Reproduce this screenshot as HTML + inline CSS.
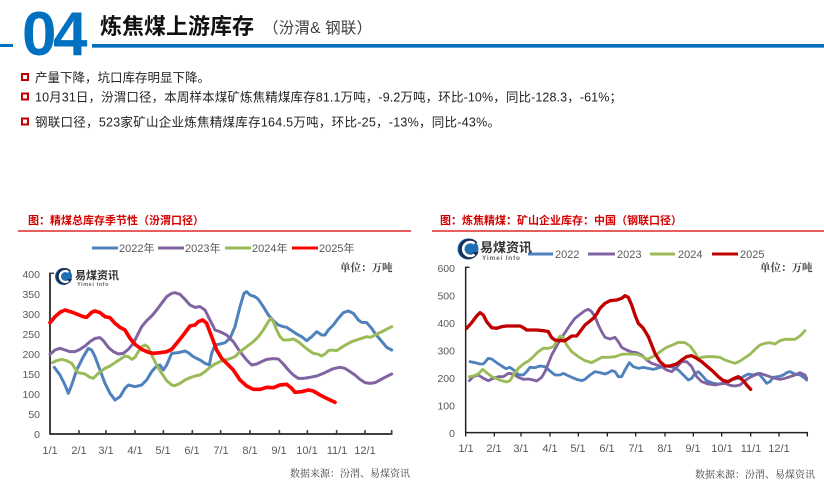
<!DOCTYPE html>
<html><head><meta charset="utf-8"><style>
html,body{margin:0;padding:0;background:#fff;}
body{width:824px;height:486px;overflow:hidden;position:relative;}
svg{position:absolute;left:0;top:0;}
.cjk{font-family:"Liberation Sans","Noto Sans CJK SC",sans-serif;}
.ser{font-family:"Liberation Serif","Noto Serif CJK SC",serif;}
</style></head><body>
<svg width="824" height="486" viewBox="0 0 824 486" xmlns="http://www.w3.org/2000/svg">
<!-- header -->
<rect x="0" y="44" width="13" height="3" fill="#0070c0"/>
<rect x="92" y="44" width="732" height="3" fill="#0070c0"/>
<rect x="92" y="47" width="732" height="1" fill="#5b9bd5"/>
<text x="22" y="55" font-family="Liberation Sans,sans-serif" font-weight="bold" font-size="62" fill="#0070c0" letter-spacing="-3.5">04</text>
<text x="100" y="34" class="cjk" font-weight="bold" font-size="22" fill="#111">炼焦煤上游库存</text>
<text x="263" y="33" class="cjk" font-size="15.5" fill="#404040" textLength="109" lengthAdjust="spacing">（汾渭&amp; 钢联）</text>

<!-- bullets -->
<g fill="none" stroke="#c00000" stroke-width="2">
<rect x="22" y="74" width="6" height="6"/>
<rect x="22" y="93.5" width="6" height="6"/>
<rect x="22" y="118.5" width="6" height="6"/>
</g>
<g class="cjk" font-size="12.5" fill="#222">
<text x="35" y="82">产量下降，坑口库存明显下降。</text>
<text x="35" y="101.5" textLength="587" lengthAdjust="spacing">10月31日，汾渭口径，本周样本煤矿炼焦精煤库存81.1万吨，-9.2万吨，环比-10%，同比-128.3，-61%；</text>
<text x="35" y="126.5" textLength="465" lengthAdjust="spacing">钢联口径，523家矿山企业炼焦精煤库存164.5万吨，环比-25，-13%，同比-43%。</text>
</g>

<!-- chart titles -->
<text x="28" y="224" class="cjk" font-weight="bold" font-size="11" fill="#d40000">图：精煤总库存季节性（汾渭口径）</text>
<line x1="18" y1="231" x2="411" y2="231" stroke="#e02828" stroke-width="1.5"/>
<text x="440" y="224" class="cjk" font-weight="bold" font-size="11" fill="#d40000">图：炼焦精煤：矿山企业库存：中国（钢联口径）</text>
<line x1="432" y1="231" x2="824" y2="231" stroke="#e02828" stroke-width="1.5"/>

<!-- left legend -->
<g stroke-width="3">
<line x1="92" y1="248" x2="118" y2="248" stroke="#4f81bd"/>
<line x1="158" y1="248" x2="184" y2="248" stroke="#8064a2"/>
<line x1="225" y1="248" x2="251" y2="248" stroke="#9bbb59"/>
<line x1="292" y1="248" x2="318" y2="248" stroke="#ff0000"/>
</g>
<g class="cjk" font-size="11" fill="#595959">
<text x="119" y="252">2022年</text>
<text x="185" y="252">2023年</text>
<text x="252" y="252">2024年</text>
<text x="319" y="252">2025年</text>
</g>

<!-- right legend -->
<g stroke-width="3">
<line x1="528" y1="254" x2="553" y2="254" stroke="#4f81bd"/>
<line x1="588" y1="254" x2="615" y2="254" stroke="#8064a2"/>
<line x1="650" y1="254" x2="675" y2="254" stroke="#9bbb59"/>
<line x1="712" y1="254" x2="738" y2="254" stroke="#c00000"/>
</g>
<g font-family="Liberation Sans,sans-serif" font-size="11" fill="#595959">
<text x="555" y="258">2022</text>
<text x="617" y="258">2023</text>
<text x="678" y="258">2024</text>
<text x="740" y="258">2025</text>
</g>

<!-- logos -->
<g>
<circle cx="63.5" cy="276.5" r="8.5" fill="#1f6fb5"/>
<path d="M58 282 A8.5 8.5 0 0 0 72 279 L68 279 A5 5 0 1 1 67 272.5 L71 271 A8.5 8.5 0 0 0 58 282Z" fill="#1b2f55"/>
<path d="M68.5 272 A5.5 5.5 0 1 0 68.5 281" fill="none" stroke="#fff" stroke-width="2.2"/>
<text x="75" y="279" class="cjk" font-weight="bold" font-size="11" fill="#333">易煤资讯</text>
<text x="77" y="286" font-family="Liberation Sans,sans-serif" font-weight="bold" font-size="5.5" fill="#666" letter-spacing="0.6">Yimei Info</text>
</g>
<g>
<circle cx="468" cy="249" r="10.5" fill="#1f6fb5"/>
<path d="M461 256 A10.5 10.5 0 0 0 478.5 252 L473.5 252 A6 6 0 1 1 472.5 244 L477.5 242.5 A10.5 10.5 0 0 0 461 256Z" fill="#1b2f55"/>
<path d="M474.5 243.5 A7 7 0 1 0 474.5 254.5" fill="none" stroke="#fff" stroke-width="2.6"/>
<text x="480" y="252" class="cjk" font-weight="bold" font-size="13" fill="#333">易煤资讯</text>
<text x="482" y="260" font-family="Liberation Sans,sans-serif" font-weight="bold" font-size="6.5" fill="#666" letter-spacing="0.8">Yimei Info</text>
</g>

<!-- units & sources -->
<g class="ser" font-weight="bold" font-size="10.5" fill="#404040">
<text x="340" y="271">单位：万吨</text>
<text x="760" y="271">单位：万吨</text>
</g>
<g class="ser" font-size="10" fill="#404040">
<text x="290" y="477">数据来源：汾渭、易煤资讯</text>
<text x="695" y="478">数据来源：汾渭、易煤资讯</text>
</g>

<!-- LEFT CHART axes labels -->
<g font-family="Liberation Sans,sans-serif" font-size="10.5" fill="#595959" text-anchor="end">
<text x="40" y="278">400</text>
<text x="40" y="298">350</text>
<text x="40" y="318">300</text>
<text x="40" y="338">250</text>
<text x="40" y="358">200</text>
<text x="40" y="378">150</text>
<text x="40" y="398">100</text>
<text x="40" y="418">50</text>
<text x="40" y="438">0</text>
</g>
<g font-family="Liberation Sans,sans-serif" font-size="11" fill="#595959" text-anchor="middle">
<text x="50" y="454">1/1</text>
<text x="79" y="454">2/1</text>
<text x="106" y="454">3/1</text>
<text x="135" y="454">4/1</text>
<text x="163" y="454">5/1</text>
<text x="192" y="454">6/1</text>
<text x="221" y="454">7/1</text>
<text x="250" y="454">8/1</text>
<text x="279" y="454">9/1</text>
<text x="307" y="454">10/1</text>
<text x="337" y="454">11/1</text>
<text x="365" y="454">12/1</text>
</g>

<g transform="translate(20 260) scale(0.333333)" fill="none" stroke-linejoin="round" stroke-linecap="round">
<path d="M90 40 V522 H1115" stroke="#404040" stroke-width="6"/>
<path d="M90 40 H100 M177 522 V512 M258 522 V512 M345 522 V512 M430 522 V512 M517 522 V512 M602 522 V512 M690 522 V512 M778 522 V512 M862 522 V512 M950 522 V512 M1035 522 V512 M1115 522 V512" stroke="#404040" stroke-width="5"/>
<polyline stroke="#4f81bd" stroke-width="9" points="103,322 120,345 135,375 145,400 155,375 170,330 190,290 205,265 215,270 225,290 240,330 255,370 270,400 285,420 300,410 315,385 325,375 345,380 365,375 380,360 395,335 410,318 420,315 430,330 440,315 455,280 475,278 495,273 505,278 520,290 540,300 555,310 568,315 575,280 585,255 600,252 615,248 630,235 645,200 660,140 672,100 680,95 690,105 705,110 715,118 730,140 745,165 760,182 775,195 790,200 800,202 815,212 830,222 845,230 860,242 875,230 890,215 905,225 915,225 925,210 940,195 955,175 970,158 985,153 1000,160 1015,180 1025,187 1040,188 1055,205 1065,220 1080,238 1100,262 1115,270"/>
<polyline stroke="#8064a2" stroke-width="9" points="90,283 105,270 120,265 135,270 150,275 165,275 180,268 195,258 210,245 225,235 240,233 250,242 265,262 280,275 295,282 310,280 325,268 340,250 355,220 365,200 380,182 395,168 410,150 425,130 440,110 455,100 465,98 480,103 495,118 510,135 525,142 540,140 555,150 570,180 585,210 600,215 620,225 640,245 660,275 680,300 695,315 710,312 725,305 740,298 760,296 775,297 790,312 805,330 820,345 835,355 850,355 870,352 890,348 910,340 925,333 940,326 960,322 975,325 990,335 1005,345 1020,358 1035,368 1050,370 1065,368 1080,360 1095,352 1115,342"/>
<polyline stroke="#9bbb59" stroke-width="9" points="97,308 110,302 125,298 140,302 155,310 165,325 175,338 195,342 210,352 220,355 235,340 255,325 270,318 285,308 300,298 315,288 325,290 335,298 345,292 355,275 365,260 375,255 385,262 395,285 410,315 425,340 440,362 455,375 465,377 480,370 495,360 510,353 525,348 540,345 555,335 570,322 585,312 600,305 615,300 630,296 645,290 660,275 680,260 700,245 715,230 730,210 745,185 752,175 760,185 770,210 780,230 790,240 805,240 820,237 835,245 850,258 865,270 880,280 895,283 905,288 915,282 925,272 935,270 950,272 965,262 980,253 995,245 1010,240 1025,235 1040,230 1050,232 1060,228 1075,220 1090,213 1105,205 1115,200"/>
<polyline stroke="#ff0000" stroke-width="11" points="90,188 105,170 120,157 135,150 160,158 190,170 200,172 215,157 225,153 240,158 255,170 270,173 285,190 300,202 315,210 330,235 345,253 365,268 385,277 400,280 420,278 440,275 455,268 470,250 490,225 510,198 525,195 535,185 548,180 560,190 575,230 590,270 605,295 620,310 640,330 660,360 680,378 700,388 720,388 740,382 760,383 780,375 800,373 815,385 825,397 845,395 865,390 880,393 900,405 920,415 945,427"/>
</g>

<!-- RIGHT CHART labels -->
<g font-family="Liberation Sans,sans-serif" font-size="10.5" fill="#595959" text-anchor="end">
<text x="455" y="272">600</text>
<text x="455" y="299.5">500</text>
<text x="455" y="327">400</text>
<text x="455" y="354.5">300</text>
<text x="455" y="382">200</text>
<text x="455" y="409.5">100</text>
<text x="455" y="437">0</text>
</g>
<g font-family="Liberation Sans,sans-serif" font-size="11" fill="#595959" text-anchor="middle">
<text x="466" y="452">1/1</text>
<text x="494" y="452">2/1</text>
<text x="521" y="452">3/1</text>
<text x="550" y="452">4/1</text>
<text x="578" y="452">5/1</text>
<text x="607" y="452">6/1</text>
<text x="636" y="452">7/1</text>
<text x="665" y="452">8/1</text>
<text x="693" y="452">9/1</text>
<text x="722" y="452">10/1</text>
<text x="751" y="452">11/1</text>
<text x="779" y="452">12/1</text>
</g>

<g transform="translate(430 260) scale(0.333333)" fill="none" stroke-linejoin="round" stroke-linecap="round">
<path d="M107 22 V518 H1132" stroke="#222" stroke-width="4.5"/>
<path d="M107 22 H117 M107 518 V528 M193 518 V528 M273 518 V528 M360 518 V528 M445 518 V528 M532 518 V528 M617 518 V528 M705 518 V528 M790 518 V528 M875 518 V528 M962 518 V528 M1047 518 V528 M1132 518 V528" stroke="#222" stroke-width="4"/>
<polyline stroke="#4f81bd" stroke-width="8.5" points="120,305 135,308 150,312 160,312 175,295 185,297 200,308 215,318 228,326 240,322 255,333 265,344 280,345 290,335 300,322 315,323 330,318 345,320 360,333 375,345 390,345 400,340 410,345 425,352 440,358 455,362 465,358 480,345 495,335 510,338 525,342 535,338 545,332 555,335 565,350 575,350 585,330 598,308 610,320 625,325 640,322 655,325 670,328 690,322 710,318 730,322 745,330 760,345 775,360 785,355 795,340 805,335 815,345 830,362 850,370 865,372 880,370 895,364 910,358 925,355 940,350 955,342 970,345 985,340 1000,357 1010,370 1020,365 1030,352 1045,350 1060,345 1070,338 1080,335 1095,342 1110,345 1125,355 1130,360"/>
<polyline stroke="#8064a2" stroke-width="8.5" points="118,362 130,350 145,345 160,355 175,362 190,355 205,350 220,350 235,340 250,342 265,352 280,358 295,357 310,360 320,363 335,352 345,335 355,310 365,285 378,262 390,240 405,218 420,195 435,175 450,163 465,152 475,148 485,155 495,170 505,195 515,215 525,232 540,237 555,232 565,245 575,262 590,270 605,276 620,278 635,285 650,300 665,310 680,315 695,320 710,330 725,335 740,322 755,305 770,305 785,320 800,350 815,365 835,372 855,375 870,372 885,370 900,376 915,378 930,375 945,362 960,352 975,345 990,340 1005,345 1020,350 1035,355 1050,358 1065,355 1080,350 1095,345 1110,338 1125,345 1130,355"/>
<polyline stroke="#9bbb59" stroke-width="8.5" points="118,350 130,348 145,342 158,328 170,338 185,350 200,356 215,362 230,366 240,362 250,345 265,325 280,312 295,303 310,290 325,275 340,265 355,265 370,260 380,245 390,228 400,232 410,255 425,275 445,290 465,302 485,308 500,300 515,292 535,292 555,290 575,283 595,282 620,283 635,288 650,298 665,292 680,283 695,272 710,262 730,254 745,247 765,248 780,258 795,278 805,295 815,292 830,290 850,290 870,292 885,300 900,305 915,310 930,303 945,293 960,283 975,268 990,255 1005,250 1020,248 1035,252 1050,242 1065,238 1080,238 1095,238 1110,228 1125,212"/>
<polyline stroke="#c00000" stroke-width="10" points="110,205 125,188 140,168 150,158 160,165 170,185 185,203 200,205 215,200 230,198 250,198 270,198 280,203 290,210 305,210 320,210 340,212 355,215 365,233 375,240 390,242 405,242 415,235 425,228 440,228 450,215 465,195 480,183 490,175 500,162 510,145 525,130 540,122 560,120 575,115 585,107 595,112 605,135 615,165 625,190 640,205 655,230 665,255 675,280 690,305 705,318 720,318 740,312 755,300 770,290 785,287 800,295 815,305 830,318 850,335 865,350 880,362 895,365 910,356 925,350 940,362 950,375 962,388"/>
</g>
</svg>
</body></html>
